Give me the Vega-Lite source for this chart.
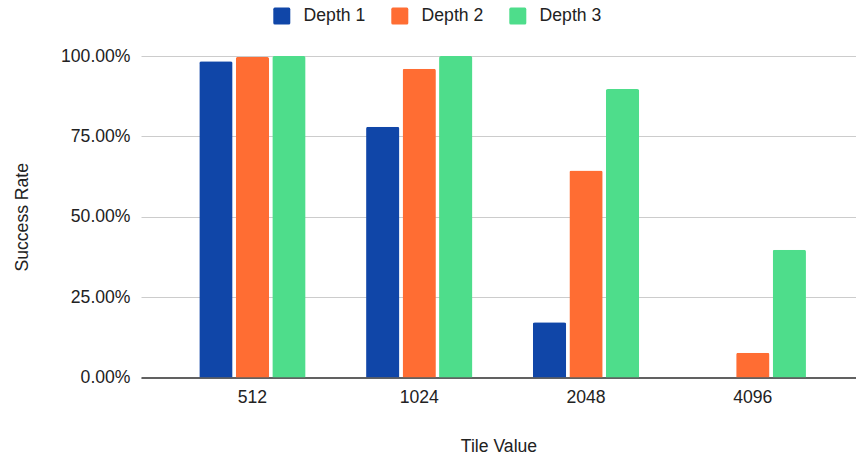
{
  "$schema": "https://vega.github.io/schema/vega-lite/v6.json",
  "autosize": {"type": "none"},
  "width": 715,
  "height": 321.5,
  "padding": {"left": 141, "top": 56, "right": 0, "bottom": 77.5},
  "background": "white",
  "data": {
    "values": [
      {"tile": "512", "depth": "Depth 1", "rate": 0.984},
      {"tile": "512", "depth": "Depth 2", "rate": 0.997},
      {"tile": "512", "depth": "Depth 3", "rate": 1.0},
      {"tile": "1024", "depth": "Depth 1", "rate": 0.78},
      {"tile": "1024", "depth": "Depth 2", "rate": 0.96},
      {"tile": "1024", "depth": "Depth 3", "rate": 1.0},
      {"tile": "2048", "depth": "Depth 1", "rate": 0.172},
      {"tile": "2048", "depth": "Depth 2", "rate": 0.644},
      {"tile": "2048", "depth": "Depth 3", "rate": 0.897},
      {"tile": "4096", "depth": "Depth 1", "rate": 0.0},
      {"tile": "4096", "depth": "Depth 2", "rate": 0.077},
      {"tile": "4096", "depth": "Depth 3", "rate": 0.397}
    ]
  },
  "mark": {"type": "bar", "cornerRadiusTopLeft": 2, "cornerRadiusTopRight": 2},
  "encoding": {
    "x": {
      "field": "tile",
      "type": "nominal",
      "sort": ["512", "1024", "2048", "4096"],
      "scale": {"paddingInner": 0.3627, "paddingOuter": 0.3247, "align": 0.538},
      "axis": {
        "title": "Tile Value",
        "labelAngle": 0,
        "ticks": false,
        "labelPadding": 11,
        "domain": true,
        "domainColor": "#616161",
        "domainWidth": 2,
        "grid": false,
        "titleY": 74,
        "titleBaseline": "alphabetic"
      }
    },
    "xOffset": {
      "field": "depth",
      "type": "nominal",
      "scale": {"paddingInner": 0.088, "paddingOuter": 0}
    },
    "y": {
      "field": "rate",
      "type": "quantitative",
      "scale": {"domain": [0, 1], "nice": false},
      "axis": {
        "title": "Success Rate",
        "values": [0, 0.25, 0.5, 0.75, 1],
        "format": ".2%",
        "ticks": false,
        "domain": false,
        "labelPadding": 11,
        "grid": true,
        "gridColor": "#cccccc",
        "gridWidth": 1,
        "titleAngle": -90,
        "titleX": -113.3,
        "titleY": 160.75,
        "titleAlign": "center",
        "titleBaseline": "alphabetic"
      }
    },
    "color": {
      "field": "depth",
      "type": "nominal",
      "scale": {
        "domain": ["Depth 1", "Depth 2", "Depth 3"],
        "range": ["#1046a8", "#ff6d33", "#4edd8b"]
      },
      "legend": {
        "title": null,
        "orient": "none",
        "direction": "horizontal",
        "legendX": 132,
        "legendY": -49,
        "padding": 0,
        "symbolType": "M -0.82 -1 L 0.82 -1 Q 1 -1 1 -0.82 L 1 0.82 Q 1 1 0.82 1 L -0.82 1 Q -1 1 -1 0.82 L -1 -0.82 Q -1 -1 -0.82 -1 Z",
        "symbolSize": 289,
        "symbolStrokeWidth": 0,
        "symbolOpacity": 1,
        "labelOffset": 13,
        "columnPadding": 25,
        "labelFontSize": 17.6,
        "labelColor": "#222222",
        "labelFont": "Liberation Sans"
      }
    }
  },
  "config": {
    "font": "Liberation Sans",
    "view": {"stroke": null},
    "axis": {
      "labelFont": "Liberation Sans",
      "labelFontSize": 17.6,
      "labelColor": "#222222",
      "titleFont": "Liberation Sans",
      "titleFontSize": 17.6,
      "titleFontWeight": "normal",
      "titleColor": "#222222"
    }
  }
}
